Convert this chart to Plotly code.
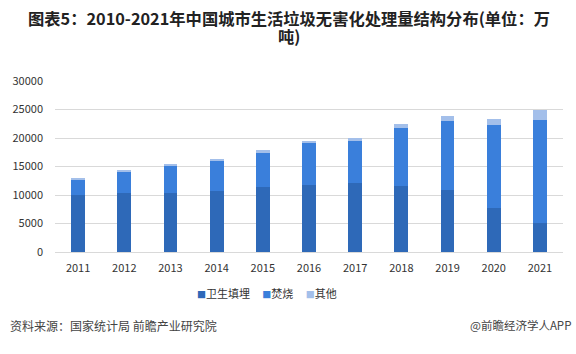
import plotly.graph_objects as go

years = ["2011", "2012", "2013", "2014", "2015", "2016", "2017", "2018", "2019", "2020", "2021"]
landfill = [10000, 10350, 10350, 10700, 11400, 11750, 12100, 11580, 10940, 7780, 5090]
incineration = [2630, 3690, 4740, 5320, 6140, 7430, 7540, 10230, 12050, 14500, 18070]
other = [350, 350, 180, 290, 350, 290, 290, 640, 880, 1050, 1700]
names = ["卫生填埋", "焚烧", "其他"]
colors = ["#2E69B8", "#3A7FDB", "#A3BFEA"]
title_lines = ["图表5：2010-2021年中国城市生活垃圾无害化处理量结构分布(单位：万", "吨)"]

font = "Noto Sans CJK SC"
fig = go.Figure()
for n, vals, c in zip(names, [landfill, incineration, other], colors):
    fig.add_trace(go.Bar(x=years, y=vals, name=n, marker=dict(color=c, line=dict(width=0))))

legend_text = "&nbsp;&nbsp;&nbsp;&nbsp;&nbsp;".join(
    f"<span style='color:{c};font-size:9px'>■</span>{n}" for n, c in zip(names, colors)
)

H = 171.0
W = 510.0
fig.update_layout(
    barmode="stack",
    bargap=0.7,
    width=576, height=354,
    margin=dict(l=53, r=13, t=81, b=102),
    paper_bgcolor="white", plot_bgcolor="white",
    font=dict(family=font, size=11, color="#333333"),
    showlegend=False,
    xaxis=dict(type="category", range=[-0.5, 10.5], showgrid=False, showline=True,
               linecolor="#d9d9d9", ticks="", ticklabelstandoff=6,
               tickfont=dict(size=11, color="#333333")),
    yaxis=dict(range=[0, 30000], dtick=5000, tickformat="d", showgrid=True, gridcolor="#d9d9d9",
               zeroline=False, ticks="", ticklabelstandoff=11,
               tickfont=dict(size=11, color="#333333")),
    annotations=[
        dict(text="<b>" + title_lines[0] + "</b>", xref="paper", yref="paper",
             x=(288 - 53) / W, y=(252 - 18) / H, xanchor="center", yanchor="middle", showarrow=False,
             font=dict(family=font, size=16.3, color="#222222")),
        dict(text="<b>" + title_lines[1] + "</b>", xref="paper", yref="paper",
             x=(288 - 53) / W, y=(252 - 36.5) / H, xanchor="center", yanchor="middle", showarrow=False,
             font=dict(family=font, size=16.3, color="#222222")),
        dict(text=legend_text, xref="paper", yref="paper",
             x=(266 - 53) / W, y=(252 - 293) / H, xanchor="center", yanchor="middle", showarrow=False,
             font=dict(family=font, size=11, color="#333333")),
        dict(text="资料来源：国家统计局 前瞻产业研究院", xref="paper", yref="paper",
             x=-47 / W, y=-73 / H, xanchor="left", yanchor="middle", showarrow=False,
             font=dict(family=font, size=12, color="#444444")),
        dict(text="@前瞻经济学人APP", xref="paper", yref="paper",
             x=1 + 10 / W, y=-73 / H, xanchor="right", yanchor="middle", showarrow=False,
             font=dict(family=font, size=11.5, color="#444444")),
    ],
)
fig.write_html("out.html")
